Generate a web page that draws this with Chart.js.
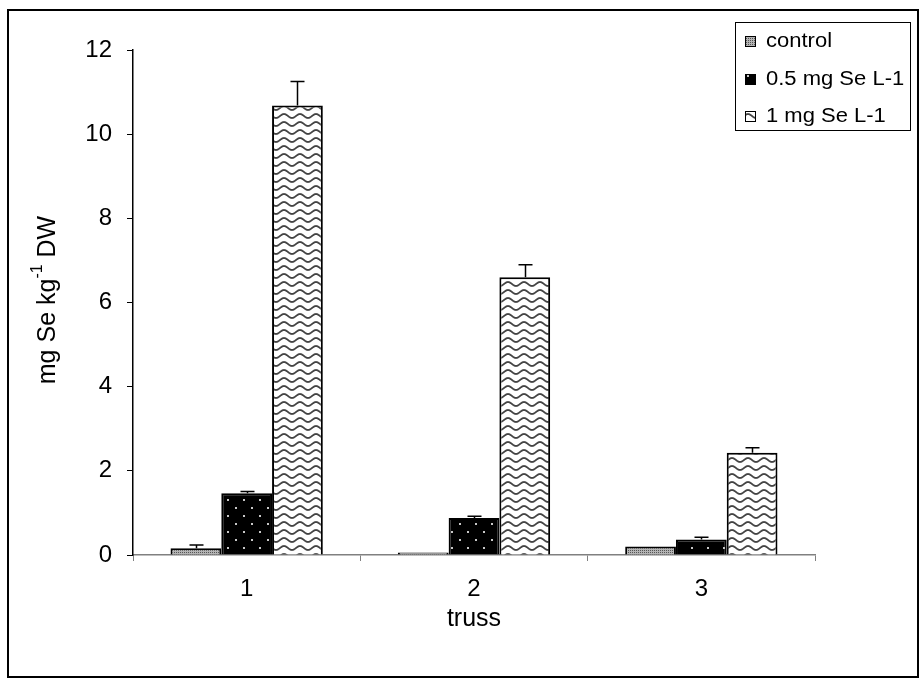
<!DOCTYPE html>
<html>
<head>
<meta charset="utf-8">
<script src="https://cdn.jsdelivr.net/npm/chart.js@4.4.1/dist/chart.umd.min.js"></script>
<style>
  html, body { margin: 0; padding: 0; background: #fff; }
  #wrap { width: 921px; height: 680px; position: relative; }
</style>
</head>
<body>
<div id="wrap"><canvas id="c" width="921" height="680"></canvas></div>
<script>
// 数据
var categories = ['1', '2', '3'];
var seriesNames = ['control', '0.5 mg Se L-1', '1 mg Se L-1'];
var controlValues = [0.16, 0.06, 0.2];
var controlErrors = [0.08, 0.0, 0.0];
var lowValues = [1.47, 0.88, 0.37];
var lowErrors = [0.04, 0.04, 0.05];
var highValues = [10.68, 6.6, 2.43];
var highErrors = [0.57, 0.3, 0.12];
var yTicks = [0, 2, 4, 6, 8, 10, 12];

var FONT = '"Liberation Sans", Arial, sans-serif';

// 填充图案
function makePattern(w, h, draw) {
    var cv = document.createElement('canvas');
    cv.width = w; cv.height = h;
    var g = cv.getContext('2d');
    draw(g);
    return document.getElementById('c').getContext('2d').createPattern(cv, 'repeat');
}

var patControl = makePattern(4, 4, function(g) {
    g.fillStyle = '#b4b4b4'; g.fillRect(0, 0, 4, 4);
    g.fillStyle = '#555';
    g.fillRect(0, 0, 1, 1); g.fillRect(2, 2, 1, 1);
    g.fillRect(2, 0, 1, 1); g.fillRect(0, 2, 1, 1);
});

var patLow = makePattern(16, 16, function(g) {
    g.fillStyle = '#000'; g.fillRect(0, 0, 16, 16);
    g.fillStyle = '#c8c8c8';
    g.fillRect(3, 3, 2, 2); g.fillRect(11, 11, 2, 2);
});

var patHigh = makePattern(16, 8, function(g) {
    g.fillStyle = '#fff'; g.fillRect(0, 0, 16, 8);
    g.strokeStyle = '#444'; g.lineWidth = 1.8;
    g.beginPath();
    for (var x = -1; x <= 17; x += 0.5) {
        var y = 4 + 2 * Math.sin(x / 16 * Math.PI * 2);
        if (x === -1) g.moveTo(x, y); else g.lineTo(x, y);
    }
    g.stroke();
});

var patterns = [patControl, patLow, patHigh];

// 误差线
var errorBarPlugin = {
    id: 'errorBars',
    afterDatasetsDraw: function(chart) {
        var ctx = chart.ctx;
        var y = chart.scales.y;
        ctx.save();
        ctx.strokeStyle = '#000';
        ctx.lineWidth = 1.5;
        chart.data.datasets.forEach(function(ds, i) {
            var meta = chart.getDatasetMeta(i);
            meta.data.forEach(function(bar, j) {
                var err = ds.errors[j];
                if (!err) return;
                var top = y.getPixelForValue(ds.data[j] + err);
                var x = Math.round(bar.x) + 0.5;
                ctx.beginPath();
                ctx.moveTo(x, bar.y);
                ctx.lineTo(x, top);
                ctx.moveTo(x - 7, top);
                ctx.lineTo(x + 7, top);
                ctx.stroke();
            });
        });
        ctx.restore();
    }
};

// 外框、图例、纵轴标题
var decorPlugin = {
    id: 'decor',
    beforeDraw: function(chart) {
        var ctx = chart.ctx;
        ctx.save();
        ctx.fillStyle = '#fff';
        ctx.fillRect(0, 0, chart.width, chart.height);
        ctx.restore();
    },
    afterDraw: function(chart) {
        var ctx = chart.ctx;
        ctx.save();
        // 外框
        ctx.strokeStyle = '#000';
        ctx.lineWidth = 2;
        ctx.strokeRect(8, 10, 910, 667);

        // 纵轴标题 (带上标)
        ctx.translate(48, 300);
        ctx.rotate(-Math.PI / 2);
        ctx.fillStyle = '#000';
        ctx.textBaseline = 'middle';
        var big = '25px ' + FONT, small = '16px ' + FONT;
        ctx.font = big;
        var a = 'mg Se kg', c = ' DW';
        var wa = ctx.measureText(a).width, wc = ctx.measureText(c).width;
        ctx.font = small;
        var wb = ctx.measureText('-1').width;
        var x0 = -(wa + wb + wc) / 2;
        ctx.font = big; ctx.fillText(a, x0, 0);
        ctx.font = small; ctx.fillText('-1', x0 + wa, -10);
        ctx.font = big; ctx.fillText(c, x0 + wa + wb, 0);
        ctx.restore();

        // 图例
        ctx.save();
        var lx = 735, ly = 22, lw = 175, lh = 108;
        ctx.fillStyle = '#fff';
        ctx.fillRect(lx, ly, lw, lh);
        ctx.strokeStyle = '#000';
        ctx.lineWidth = 1;
        ctx.strokeRect(lx + 0.5, ly + 0.5, lw, lh);
        ctx.font = '20px ' + FONT;
        ctx.textBaseline = 'middle';
        var rows = [41, 79, 116];
        seriesNames.forEach(function(name, i) {
            ctx.fillStyle = patterns[i];
            ctx.fillRect(745, rows[i] - 5, 11, 11);
            ctx.strokeStyle = '#000';
            ctx.strokeRect(745.5, rows[i] - 4.5, 10, 10);
            ctx.fillStyle = '#000';
            ctx.save();
            ctx.translate(766, rows[i]);
            ctx.scale(1.1, 1);
            ctx.fillText(name, 0, 0);
            ctx.restore();
        });
        ctx.restore();
    }
};

var valueSets = [controlValues, lowValues, highValues];
var errorSets = [controlErrors, lowErrors, highErrors];

new Chart(document.getElementById('c'), {
    type: 'bar',
    data: {
        labels: categories,
        datasets: seriesNames.map(function(name, i) {
            return {
                label: name,
                data: valueSets[i],
                errors: errorSets[i],
                backgroundColor: patterns[i],
                borderColor: '#000',
                borderWidth: 2,
                borderSkipped: 'bottom',
                categoryPercentage: 0.67,
                barPercentage: 1.0
            };
        })
    },
    options: {
        responsive: false,
        animation: false,
        events: [],
        layout: { padding: { left: 0, right: 106, top: 50, bottom: 44 } },
        plugins: {
            legend: { display: false },
            tooltip: { enabled: false }
        },
        scales: {
            x: {
                offset: true,
                grid: {
                    display: true,
                    offset: true,
                    drawOnChartArea: false,
                    drawTicks: true,
                    tickLength: 6,
                    color: '#808080'
                },
                border: { display: true, color: '#808080', width: 1.5 },
                ticks: { color: '#000', font: { family: FONT, size: 24 }, padding: 14 },
                title: {
                    display: true,
                    text: 'truss',
                    color: '#000',
                    font: { family: FONT, size: 25 },
                    padding: { top: 2, bottom: 2 }
                },
                afterFit: function(s) { s.height = 81; }
            },
            y: {
                min: 0,
                max: 12,
                afterBuildTicks: function(s) {
                    s.ticks = yTicks.map(function(v) { return { value: v }; });
                },
                grid: {
                    display: true,
                    drawOnChartArea: false,
                    drawTicks: true,
                    tickLength: 6,
                    color: '#000'
                },
                border: { display: true, color: '#000', width: 1.5 },
                ticks: { color: '#000', font: { family: FONT, size: 24 }, padding: 15 },
                afterFit: function(s) { s.width = 133; }
            }
        }
    },
    plugins: [errorBarPlugin, decorPlugin]
});
</script>
</body>
</html>
